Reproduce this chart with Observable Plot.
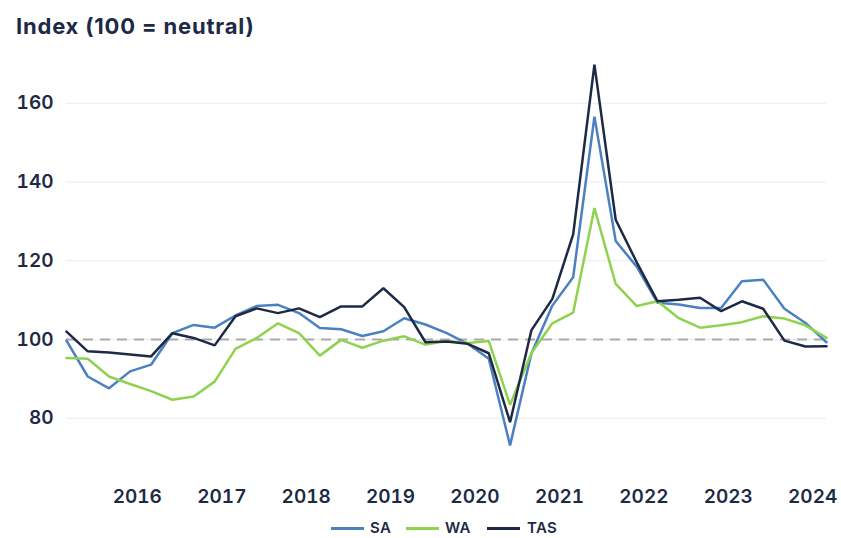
<!DOCTYPE html>
<html>
<head>
<meta charset="utf-8">
<script src="https://cdn.jsdelivr.net/npm/d3@7"></script>
<script src="https://cdn.jsdelivr.net/npm/@observablehq/plot@0.6"></script>
<style>
  html, body { margin: 0; padding: 0; background: #ffffff; overflow: hidden; }
  body { width: 841px; height: 538px; position: relative; font-family: Inter, "Noto Sans", sans-serif; color: #1e2a45; }
  #title { position: absolute; left: 16px; top: 15px; font-size: 22px; line-height: 22px; font-weight: 700; letter-spacing: 0.8px; white-space: nowrap; }
  #chart { position: absolute; left: 0; top: 50px; }
  .lg-line { position: absolute; height: 3px; width: 33px; top: 527px; }
  .lg-text { position: absolute; top: 520px; font-size: 15px; line-height: 16px; font-weight: 600; letter-spacing: 0.3px; white-space: nowrap; }
</style>
</head>
<body>
<div id="title">Index (100 = neutral)</div>
<div id="chart"></div>
<div id="legend"></div>
<script>
// Quarterly observations (quarter-ending month)
const quarters = [
  "2015-03","2015-06","2015-09","2015-12",
  "2016-03","2016-06","2016-09","2016-12",
  "2017-03","2017-06","2017-09","2017-12",
  "2018-03","2018-06","2018-09","2018-12",
  "2019-03","2019-06","2019-09","2019-12",
  "2020-03","2020-06","2020-09","2020-12",
  "2021-03","2021-06","2021-09","2021-12",
  "2022-03","2022-06","2022-09","2022-12",
  "2023-03","2023-06","2023-09","2023-12",
  "2024-03"
];
const SA = [
  99.7, 90.6, 87.6, 91.9, 93.6, 101.6, 103.7, 103.0, 106.1, 108.5, 108.8, 106.7, 102.9,
  102.6, 100.9, 102.1, 105.4, 103.8, 101.6, 98.9, 95.1, 73.1, 96.4, 108.6, 115.8,
  156.6, 125.0, 118.5, 109.3, 108.9, 108.0, 108.0, 114.8, 115.2, 107.8, 104.2, 99.3
];
const WA = [
  95.3, 95.1, 90.6, 88.7, 86.9, 84.7, 85.5, 89.3, 97.6, 100.4, 104.1, 101.6, 95.9,
  99.9, 97.9, 99.7, 100.8, 98.7, 99.6, 99.1, 99.6, 83.4, 96.5, 104.1, 106.8,
  133.4, 114.1, 108.5, 109.7, 105.4, 103.0, 103.6, 104.4, 105.9, 105.3, 103.6, 100.4
];
const TAS = [
  102.0, 97.0, 96.7, 96.2, 95.7, 101.6, 100.4, 98.5, 105.9, 107.9, 106.7, 107.9, 105.7,
  108.4, 108.4, 113.0, 108.2, 99.3, 99.5, 98.9, 96.5, 79.0, 102.3, 110.3, 126.7,
  169.8, 130.4, 119.6, 109.7, 110.1, 110.6, 107.2, 109.7, 107.8, 99.7, 98.2, 98.3
];
const yearTicks = ["2016","2017","2018","2019","2020","2021","2022","2023","2024"];
const yTicks = [80, 100, 120, 140, 160];
const neutral = 100;

const seriesNames = ["SA", "WA", "TAS"];
const seriesColors = ["#4b80c1", "#8fd24f", "#1e2a45"];

const parseQ = d3.utcParse("%Y-%m");
const parseY = d3.utcParse("%Y");
const dates = quarters.map(parseQ);
const rows = [];
[SA, WA, TAS].forEach((vals, k) => {
  vals.forEach((v, i) => rows.push({date: dates[i], value: v, series: seriesNames[k]}));
});

const textColor = "#1e2a45";
const chart = Plot.plot({
  width: 841,
  height: 460,
  marginLeft: 66,
  marginRight: 15,
  marginTop: 5.5,
  marginBottom: 52.9,
  style: {fontFamily: "Inter, 'Noto Sans', sans-serif", background: "transparent", overflow: "visible"},
  x: {type: "utc", domain: [dates[0], dates[dates.length - 1]]},
  y: {domain: [70, 172]},
  color: {domain: seriesNames, range: seriesColors},
  marks: [
    Plot.ruleY(yTicks, {stroke: "#ebebeb", strokeWidth: 1}),
    Plot.ruleY([neutral], {stroke: "#a9a9a9", strokeWidth: 2, strokeDasharray: "10,7"}),
    ...seriesNames.map(name => Plot.line(rows.filter(r => r.series === name), {
      x: "date", y: "value", stroke: "series", strokeWidth: 2.5, strokeLinejoin: "miter", curve: "linear"
    })),
    Plot.axisY(yTicks, {tickSize: 0, tickPadding: 13, fontSize: 19, fontWeight: 600, fill: textColor, label: null}),
    Plot.axisX(yearTicks.map(parseY), {tickSize: 0, tickPadding: 32, fontSize: 19, fontWeight: 600, fill: textColor, tickFormat: d3.utcFormat("%Y"), label: null})
  ]
});
document.getElementById("chart").appendChild(chart);

// Legend
const legend = document.getElementById("legend");
const lgPos = [
  {line: 331, text: 370},
  {line: 406, text: 445},
  {line: 487, text: 527}
];
seriesNames.forEach((name, k) => {
  const l = document.createElement("div");
  l.className = "lg-line";
  l.style.left = lgPos[k].line + "px";
  l.style.background = seriesColors[k];
  legend.appendChild(l);
  const t = document.createElement("div");
  t.className = "lg-text";
  t.style.left = lgPos[k].text + "px";
  t.textContent = name;
  legend.appendChild(t);
});
</script>
</body>
</html>
